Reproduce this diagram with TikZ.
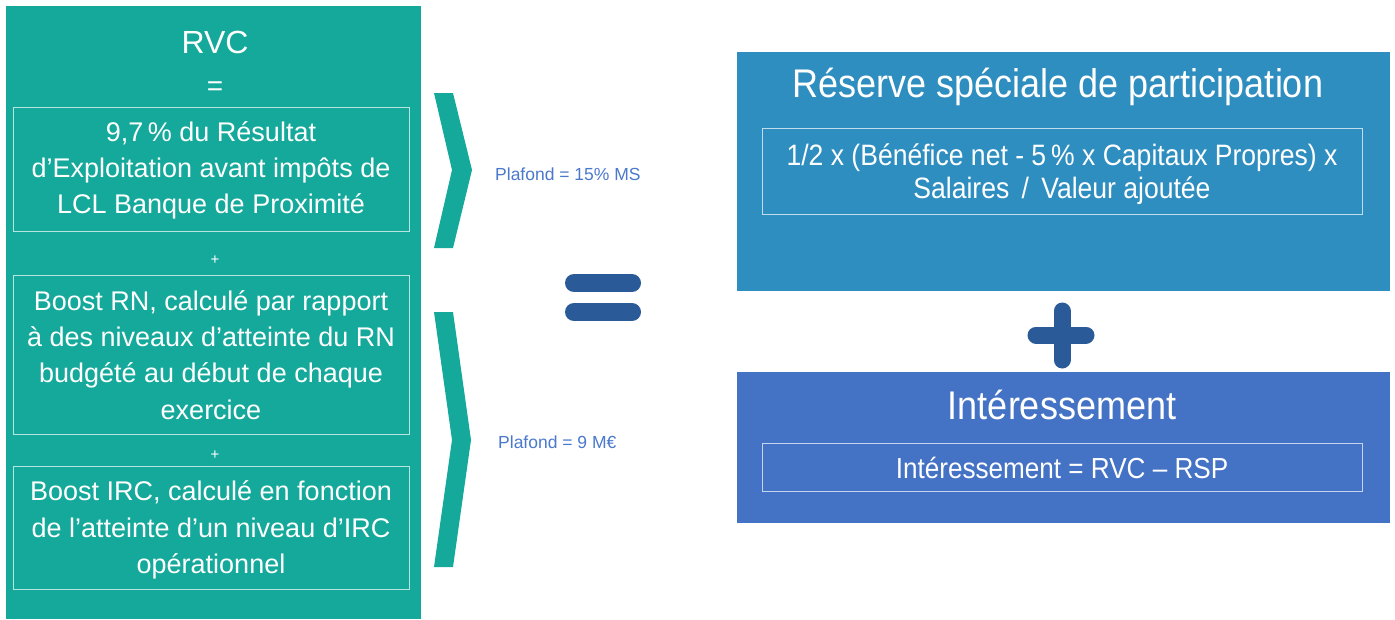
\documentclass[tikz,border=0pt]{standalone}
\usepackage{fontspec}
\setmainfont{Liberation Sans}
\newfontfamily\condfont{Liberation Sans}[FakeStretch=0.9]
\definecolor{teal}{HTML}{15A99B}
\definecolor{rspblue}{HTML}{2F8EC0}
\definecolor{intblue}{HTML}{4472C4}
\definecolor{signblue}{HTML}{2A5B98}
\definecolor{plafblue}{HTML}{4A78CC}
\tikzset{
  panel/.style={fill=#1, draw=none},
  framebox/.style={draw=white, draw opacity=0.7, line width=1pt, fill=none},
  wtext/.style={text=white, inner sep=0pt, align=center},
  lefttext/.style={wtext, font=\fontsize{27}{36.3}\selectfont},
  plaf/.style={text=plafblue, inner sep=0pt, font=\fontsize{17.5}{20}\selectfont},
  chev/.style={fill=teal, draw=none},
  sign/.style={draw=signblue, line cap=round}
}
\begin{document}
\begin{tikzpicture}[x=1pt,y=-1pt]
\useasboundingbox (0,0) rectangle (1395,619);
% left panel
\path[panel=teal] (6,6) rectangle (421,619);
\node[wtext, font=\fontsize{32}{36}\selectfont] (rvc) at (215,42) {RVC};
\node[wtext, font=\fontsize{28}{30}\selectfont] (eq1) at (215,89) {=};
\draw[framebox] (13,107) rectangle (409,231);
\node[lefttext] (t1) at (211,170.5) {9,7\,\% du Résultat\\d’Exploitation avant impôts de\\LCL Banque de Proximité};
\node[wtext, font=\fontsize{15}{18}\selectfont] (p1) at (215,260) {+};
\draw[framebox] (13,275) rectangle (409,434);
\node[lefttext] (t2) at (211,355) {Boost RN, calculé par rapport\\à des niveaux d’atteinte du RN\\budgété au début de chaque\\exercice};
\node[wtext, font=\fontsize{15}{18}\selectfont] (p2) at (215,455) {+};
\draw[framebox] (13,466) rectangle (409,589);
\node[lefttext] (t3) at (211,530) {Boost IRC, calculé en fonction\\de l’atteinte d’un niveau d’IRC\\opérationnel};
% chevrons
\path[chev] (434,93) -- (453,93) -- (472,170) -- (453,248) -- (434,248) -- (452,170) -- cycle;
\path[chev] (434,312) -- (453,312) -- (471,440) -- (453,567) -- (434,567) -- (452,440) -- cycle;
\node[plaf, anchor=west] (pl1) at (495,174) {Plafond = 15\% MS};
\node[plaf, anchor=west] (pl2) at (498,442) {Plafond = 9 M€};
% equals sign
\draw[sign, line width=18pt] (574,283) -- (632,283);
\draw[sign, line width=18pt] (574,312) -- (632,312);
% right boxes
\path[panel=rspblue] (737,52) rectangle (1390,291);
\node[wtext, font=\condfont\fontsize{40}{44}\selectfont] (rsp) at (1058,87) {Réserve spéciale de participation};
\draw[framebox] (762,128) rectangle (1362,214);
\node[wtext, font=\condfont\fontsize{29.5}{33}\selectfont] (f1) at (1062,174) {1/2 x (Bénéfice net - 5\,\% x Capitaux Propres) x\\Salaires \,/\, Valeur ajoutée};
% plus sign
\draw[sign, line width=17pt] (1062,311) -- (1062,360);
\draw[sign, line width=17pt] (1036,335) -- (1086,335);
\path[panel=intblue] (737,372) rectangle (1390,523);
\node[wtext, font=\condfont\fontsize{40}{44}\selectfont] (int) at (1062,405) {Intéressement};
\draw[framebox] (762,443) rectangle (1362,491);
\node[wtext, font=\condfont\fontsize{29}{33}\selectfont] (f2) at (1062,468) {Intéressement = RVC – RSP};
\end{tikzpicture}
\end{document}
